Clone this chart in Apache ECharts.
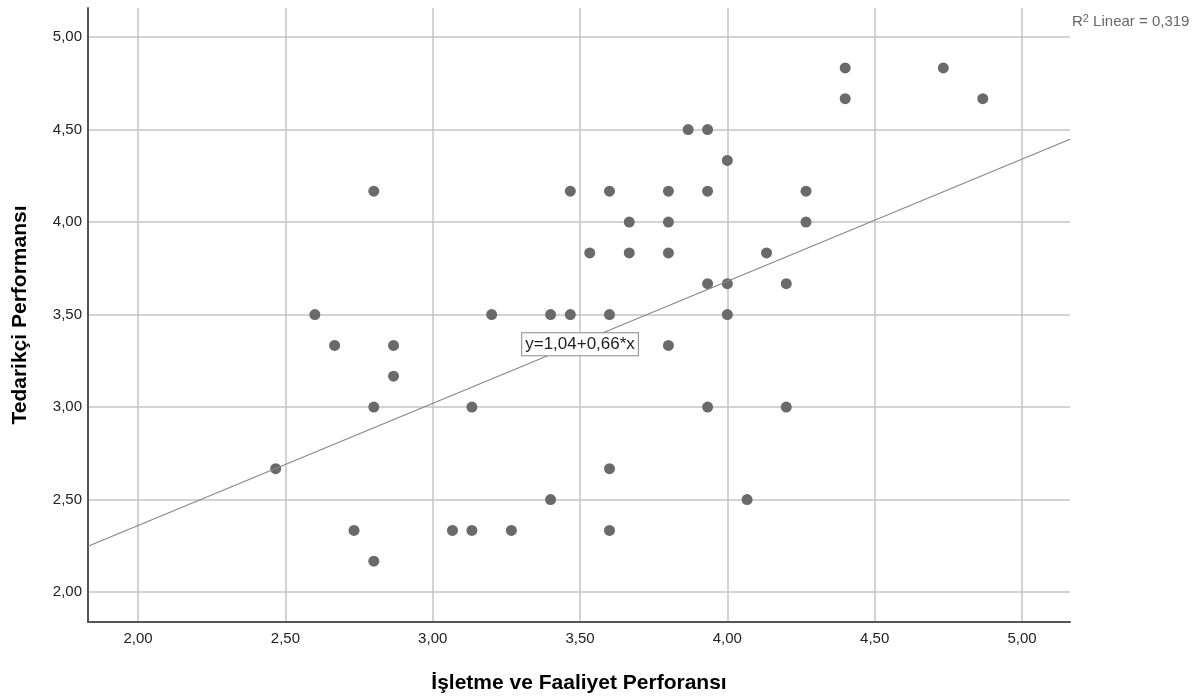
<!DOCTYPE html>
<html>
<head>
<meta charset="utf-8">
<script src="https://cdn.jsdelivr.net/npm/echarts@6/dist/echarts.min.js"></script>
<style>html,body{margin:0;padding:0;background:#fff;}#c{width:1203px;height:698px;}</style>
</head>
<body>
<div id="c"></div>
<script>
const xTicks = [2.0, 2.5, 3.0, 3.5, 4.0, 4.5, 5.0];
const yTicks = [2.0, 2.5, 3.0, 3.5, 4.0, 4.5, 5.0];
const xValues = [2.467, 2.6, 2.667, 2.733, 2.8, 2.8, 2.8, 2.867, 2.867, 3.067, 3.133, 3.133, 3.2, 3.267, 3.4, 3.4,
  3.467, 3.467, 3.533, 3.6, 3.6, 3.6, 3.6, 3.667, 3.667, 3.8, 3.8, 3.8, 3.8, 3.867, 3.933, 3.933, 3.933, 3.933,
  4.0, 4.0, 4.0, 4.067, 4.133, 4.2, 4.2, 4.267, 4.267, 4.4, 4.4, 4.733, 4.867];
const yValues = [2.667, 3.5, 3.333, 2.333, 4.167, 3.0, 2.167, 3.333, 3.167, 2.333, 3.0, 2.333, 3.5, 2.333, 3.5, 2.5,
  4.167, 3.5, 3.833, 4.167, 3.5, 2.667, 2.333, 4.0, 3.833, 4.167, 4.0, 3.833, 3.333, 4.5, 4.5, 4.167, 3.667, 3.0,
  4.333, 3.667, 3.5, 2.5, 3.833, 3.667, 3.0, 4.167, 4.0, 4.833, 4.667, 4.833, 4.667];
const intercept = 1.04;
const slope = 0.66;
const r2Text = '0,319';
const xTitle = 'İşletme ve Faaliyet Perforansı';
const yTitle = 'Tedarikçi Performansı';
const xMin = 1.83, xMax = 5.163, yMin = 1.838, yMax = 5.157;

const points = xValues.map((x, i) => [x, yValues[i]]);
const fitLine = [[xMin, intercept + slope * xMin], [xMax, intercept + slope * xMax]];
const fmt = v => v.toFixed(2).replace('.', ',');
const FONT = 'Liberation Sans, Arial, sans-serif';

const chart = echarts.init(document.getElementById('c'), null, {renderer: 'canvas'});
chart.setOption({
  animation: false,
  backgroundColor: '#ffffff',
  grid: {left: 88, top: 8, right: 133, bottom: 76, containLabel: false, outerBoundsMode: 'none'},
  xAxis: {
    type: 'value', min: xMin, max: xMax,
    name: xTitle, nameLocation: 'middle', nameGap: 51,
    nameTextStyle: {fontFamily: FONT, fontSize: 21, fontWeight: 'bold', color: '#000'},
    axisLine: {show: true, onZero: false, lineStyle: {color: '#555', width: 2}},
    axisTick: {show: false, customValues: xTicks},
    axisLabel: {customValues: xTicks, formatter: fmt, fontFamily: FONT, fontSize: 15, color: '#222', margin: 9},
    splitLine: {show: true, lineStyle: {color: '#c4c4c4', width: 1.5}}
  },
  yAxis: {
    type: 'value', min: yMin, max: yMax,
    name: yTitle, nameLocation: 'middle', nameGap: 57,
    nameTextStyle: {fontFamily: FONT, fontSize: 21, fontWeight: 'bold', color: '#000'},
    axisLine: {show: true, onZero: false, lineStyle: {color: '#555', width: 2}},
    axisTick: {show: false, customValues: yTicks},
    axisLabel: {customValues: yTicks, formatter: fmt, fontFamily: FONT, fontSize: 15, color: '#222', margin: 6},
    splitLine: {show: true, lineStyle: {color: '#c4c4c4', width: 1.5}}
  },
  series: [
    {
      type: 'line', data: fitLine, symbol: 'none', silent: true,
      lineStyle: {color: '#888', width: 1.2},
      markPoint: {
        symbol: 'rect', symbolSize: 0,
        data: [{coord: [3.5, 3.34]}],
        label: {
          show: true, formatter: 'y=1,04+0,66*x', position: 'inside',
          fontFamily: FONT, fontSize: 17, color: '#222',
          backgroundColor: '#fff', borderColor: '#888', borderWidth: 1, padding: [3, 3, 2, 3]
        }
      }
    },
    {
      type: 'scatter', data: points, symbol: 'circle', symbolSize: 11,
      itemStyle: {color: '#6a6a6a', opacity: 1}
    }
  ],
  graphic: [{
    type: 'text', left: 1072, top: 13,
    style: {
      text: 'R{sup|2} Linear = ' + r2Text,
      fontFamily: FONT, fontSize: 15, fill: '#666',
      rich: {sup: {fontSize: 11, verticalAlign: 'top', fill: '#666', padding: [0, 0, 7, 0]}}
    }
  }]
});
</script>
</body>
</html>
